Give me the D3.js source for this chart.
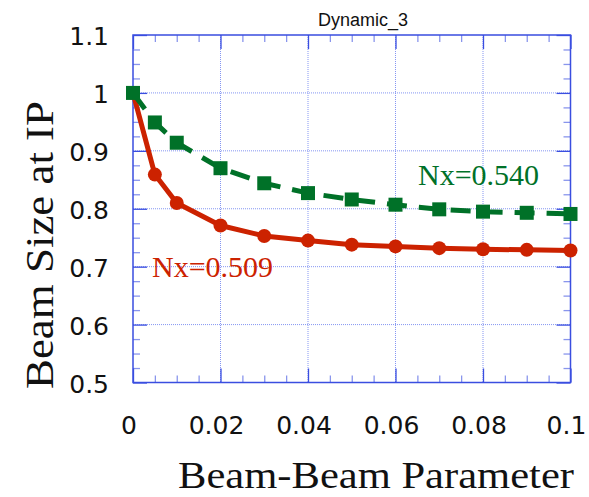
<!DOCTYPE html>
<html>
<head>
<meta charset="utf-8">
<script src="https://d3js.org/d3.v7.min.js"></script>
<style>
  html, body { margin: 0; padding: 0; background: #fff; }
  svg { display: block; }
</style>
</head>
<body>
<svg id="chart" width="589" height="497"></svg>
<script>
// Beam size at the IP versus beam-beam parameter for two tunes
const beamBeam = [0, 0.005, 0.01, 0.02, 0.03, 0.04, 0.05, 0.06, 0.07, 0.08, 0.09, 0.1];
const sizeNx509 = [1.0, 0.859, 0.810, 0.771, 0.753, 0.745, 0.738, 0.735, 0.732, 0.730, 0.729, 0.728];
const sizeNx540 = [1.0, 0.949, 0.914, 0.870, 0.844, 0.827, 0.816, 0.807, 0.799, 0.795, 0.793, 0.791];
const xTickValues = [0, 0.02, 0.04, 0.06, 0.08, 0.1];
const xTickLabels = ["0", "0.02", "0.04", "0.06", "0.08", "0.1"];
const yTickValues = [0.5, 0.6, 0.7, 0.8, 0.9, 1.0, 1.1];
const yTickLabels = ["0.5", "0.6", "0.7", "0.8", "0.9", "1", "1.1"];
const chartTitle = "Dynamic_3";
const xTitle = "Beam-Beam Parameter";
const yTitle = "Beam Size at IP";
const seriesLabels = ["Nx=0.509", "Nx=0.540"];

const W = 589, H = 497;
const margin = { left: 133, right: 18.5, top: 35, bottom: 114.5 };
const iw = W - margin.left - margin.right;
const ih = H - margin.top - margin.bottom;

const RED = "#cc2200";
const GREEN = "#007128";
const AXIS = "#3a4ee0";
const GRID = "#8596f2";

const svg = d3.select("#chart");
const g = svg.append("g").attr("transform", `translate(${margin.left},${margin.top})`);

const x = d3.scaleLinear().domain([0, 0.1]).range([0, iw]);
const y = d3.scaleLinear().domain([0.5, 1.1]).range([ih, 0]);

// dotted grid at the major ticks
g.append("g").selectAll("line.gx")
  .data(xTickValues.slice(1, -1)).join("line")
  .attr("x1", d => x(d)).attr("x2", d => x(d))
  .attr("y1", 0).attr("y2", ih)
  .attr("stroke", GRID).attr("stroke-width", 1).attr("stroke-dasharray", "1,1");
g.append("g").selectAll("line.gy")
  .data(yTickValues.slice(1, -1)).join("line")
  .attr("y1", d => y(d)).attr("y2", d => y(d))
  .attr("x1", 0).attr("x2", iw)
  .attr("stroke", GRID).attr("stroke-width", 1).attr("stroke-dasharray", "1,1");

// inward ticks on all four sides
const xMinor = d3.range(0, 0.1001, 0.005).filter(v => !xTickValues.some(t => Math.abs(t - v) < 1e-9));
const yMinor = d3.range(0.5, 1.1001, 0.025).filter(v => !yTickValues.some(t => Math.abs(t - v) < 1e-9));

function tickAxis(axisGen, transform, opacity) {
  const a = g.append("g").attr("transform", transform).call(axisGen);
  a.select(".domain").remove();
  a.selectAll("text").remove();
  a.selectAll(".tick line").attr("stroke", AXIS).attr("stroke-width", 1.3).attr("opacity", opacity);
  return a;
}
// major
tickAxis(d3.axisBottom(x).tickValues(xTickValues).tickSize(-14), `translate(0,${ih})`, 1);
tickAxis(d3.axisTop(x).tickValues(xTickValues).tickSize(-14), `translate(0,0)`, 1);
tickAxis(d3.axisLeft(y).tickValues(yTickValues).tickSize(-14), `translate(0,0)`, 1);
tickAxis(d3.axisRight(y).tickValues(yTickValues).tickSize(-14), `translate(${iw},0)`, 1);
// minor
tickAxis(d3.axisBottom(x).tickValues(xMinor).tickSize(-7), `translate(0,${ih})`, 0.6);
tickAxis(d3.axisTop(x).tickValues(xMinor).tickSize(-7), `translate(0,0)`, 0.6);
tickAxis(d3.axisLeft(y).tickValues(yMinor).tickSize(-7), `translate(0,0)`, 0.6);
tickAxis(d3.axisRight(y).tickValues(yMinor).tickSize(-7), `translate(${iw},0)`, 0.6);

// frame
g.append("rect").attr("x", 0).attr("y", 0).attr("width", iw).attr("height", ih)
  .attr("fill", "none").attr("stroke", AXIS).attr("stroke-width", 1.5);

// tick labels
const tickFont = "'DejaVu Sans', sans-serif";
g.append("g").selectAll("text")
  .data(xTickValues).join("text")
  .attr("x", d => x(d) - 4).attr("y", ih + 51)
  .attr("text-anchor", "middle")
  .attr("font-family", tickFont).attr("font-size", 25).attr("fill", "#111")
  .text((d, i) => xTickLabels[i]);
g.append("g").selectAll("text")
  .data(yTickValues).join("text")
  .attr("x", -24).attr("y", d => y(d) + 10)
  .attr("text-anchor", "end")
  .attr("font-family", tickFont).attr("font-size", 25).attr("fill", "#111")
  .text((d, i) => yTickLabels[i]);

// series lines and markers
const line = d3.line().x((d, i) => x(beamBeam[i])).y(d => y(d));

g.append("path").datum(sizeNx509)
  .attr("d", line).attr("fill", "none")
  .attr("stroke", RED).attr("stroke-width", 5).attr("stroke-linejoin", "round");
g.append("g").selectAll("circle")
  .data(sizeNx509).join("circle")
  .attr("cx", (d, i) => x(beamBeam[i])).attr("cy", d => y(d))
  .attr("r", 7).attr("fill", RED);

g.append("path").datum(sizeNx540)
  .attr("d", line).attr("fill", "none")
  .attr("stroke", GREEN).attr("stroke-width", 5).attr("stroke-dasharray", "20,12");
const sq = 14;
g.append("g").selectAll("rect")
  .data(sizeNx540).join("rect")
  .attr("x", (d, i) => x(beamBeam[i]) - sq / 2).attr("y", d => y(d) - sq / 2)
  .attr("width", sq).attr("height", sq).attr("fill", GREEN);

// series labels
const serif = "'Liberation Serif', 'Times New Roman', serif";
svg.append("text").attr("x", 152).attr("y", 277)
  .attr("font-family", serif).attr("font-size", 30).attr("fill", RED)
  .text(seriesLabels[0]);
svg.append("text").attr("x", 418).attr("y", 185)
  .attr("font-family", serif).attr("font-size", 30).attr("fill", GREEN)
  .text(seriesLabels[1]);

// titles
svg.append("text").attr("x", 363).attr("y", 26)
  .attr("text-anchor", "middle")
  .attr("font-family", "'Liberation Sans', Arial, sans-serif").attr("font-size", 18).attr("fill", "#111")
  .text(chartTitle);
svg.append("text").attr("x", 376).attr("y", 488)
  .attr("text-anchor", "middle")
  .attr("font-family", serif).attr("font-size", 37).attr("fill", "#111")
  .attr("textLength", 396).attr("lengthAdjust", "spacingAndGlyphs")
  .text(xTitle);
svg.append("text")
  .attr("transform", "translate(53,245) rotate(-90)")
  .attr("text-anchor", "middle")
  .attr("font-family", serif).attr("font-size", 39).attr("fill", "#111")
  .attr("textLength", 288).attr("lengthAdjust", "spacingAndGlyphs")
  .text(yTitle);
</script>
</body>
</html>
